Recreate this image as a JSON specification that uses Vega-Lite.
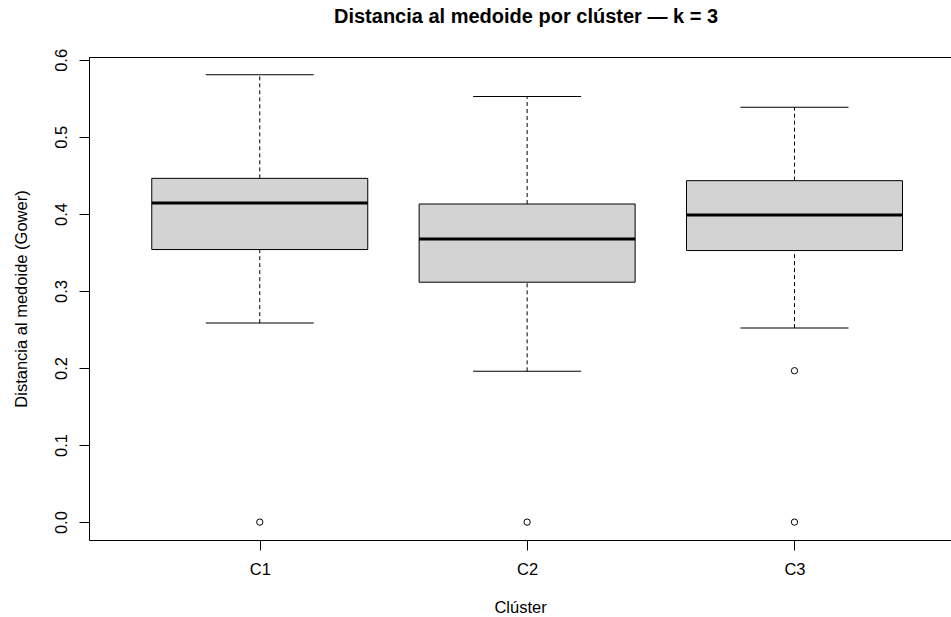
{
  "$schema": "https://vega.github.io/schema/vega-lite/v6.json",
  "width": 862,
  "height": 483,
  "autosize": {"type": "none"},
  "padding": {"left": 89, "top": 57, "right": 0, "bottom": 77},
  "background": "white",
  "config": {
    "view": {"stroke": "black", "strokeWidth": 1},
    "font": "Liberation Sans",
    "axis": {"grid": false, "domain": false, "tickColor": "black", "tickSize": 10, "labelColor": "black", "titleColor": "black", "labelFont": "Liberation Sans", "titleFont": "Liberation Sans", "labelFontSize": 16.5, "titleFontSize": 16.5, "titleFontWeight": "normal"}
  },
  "title": {"text": "Distancia al medoide por clúster — k = 3", "fontSize": 20, "fontWeight": "bold", "font": "Liberation Sans", "anchor": "middle", "dx": 6, "offset": 21, "color": "black"},
  "datasets": {
    "boxes": [
      {"cluster": "C1", "pos": 1, "lower": 0.2583, "q1": 0.3538, "median": 0.4142, "q3": 0.4462, "upper": 0.5805},
      {"cluster": "C2", "pos": 2, "lower": 0.1957, "q1": 0.3114, "median": 0.3675, "q3": 0.4129, "upper": 0.5524},
      {"cluster": "C3", "pos": 3, "lower": 0.2518, "q1": 0.3525, "median": 0.3986, "q3": 0.4432, "upper": 0.5386}
    ],
    "outliers": [
      {"cluster": "C1", "pos": 1, "value": 0.0},
      {"cluster": "C2", "pos": 2, "value": 0.0},
      {"cluster": "C3", "pos": 3, "value": 0.0},
      {"cluster": "C3", "pos": 3, "value": 0.1965}
    ]
  },
  "encoding": {
    "x": {
      "field": "pos", "type": "quantitative",
      "scale": {"domain": [0.38, 3.5667], "nice": false, "zero": false},
      "axis": {"values": [1, 2, 3], "labelExpr": "'C' + datum.value", "title": "Clúster", "labelPadding": 11, "titlePadding": 22}
    }
  },
  "layer": [
    {
      "data": {"name": "boxes"},
      "mark": {"type": "rule", "color": "black", "strokeWidth": 1, "strokeDash": [4, 3]},
      "encoding": {
        "y": {"field": "lower", "type": "quantitative",
          "scale": {"domain": [-0.0232, 0.6037], "nice": false, "zero": false},
          "axis": {"values": [0, 0.1, 0.2, 0.3, 0.4, 0.5, 0.6], "format": ".1f", "labelAngle": -90, "labelAlign": "center", "labelBaseline": "bottom", "labelPadding": 10, "title": "Distancia al medoide (Gower)", "titlePadding": 24}},
        "y2": {"field": "q1"}
      }
    },
    {
      "data": {"name": "boxes"},
      "mark": {"type": "rule", "color": "black", "strokeWidth": 1, "strokeDash": [4, 3]},
      "encoding": {"y": {"field": "q3", "type": "quantitative"}, "y2": {"field": "upper"}}
    },
    {
      "data": {"name": "boxes"},
      "mark": {"type": "tick", "orient": "horizontal", "color": "black", "opacity": 1, "size": 108, "thickness": 1},
      "encoding": {"y": {"field": "lower", "type": "quantitative"}}
    },
    {
      "data": {"name": "boxes"},
      "mark": {"type": "tick", "orient": "horizontal", "color": "black", "opacity": 1, "size": 108, "thickness": 1},
      "encoding": {"y": {"field": "upper", "type": "quantitative"}}
    },
    {
      "data": {"name": "boxes"},
      "mark": {"type": "bar", "width": 216, "fill": "#D3D3D3", "stroke": "black", "strokeWidth": 1, "opacity": 1},
      "encoding": {"y": {"field": "q1", "type": "quantitative"}, "y2": {"field": "q3"}}
    },
    {
      "data": {"name": "boxes"},
      "mark": {"type": "tick", "orient": "horizontal", "color": "black", "opacity": 1, "size": 216, "thickness": 3},
      "encoding": {"y": {"field": "median", "type": "quantitative"}}
    },
    {
      "data": {"name": "outliers"},
      "mark": {"type": "point", "shape": "circle", "filled": false, "stroke": "black", "strokeWidth": 1, "size": 40, "opacity": 1},
      "encoding": {"y": {"field": "value", "type": "quantitative"}}
    }
  ]
}
